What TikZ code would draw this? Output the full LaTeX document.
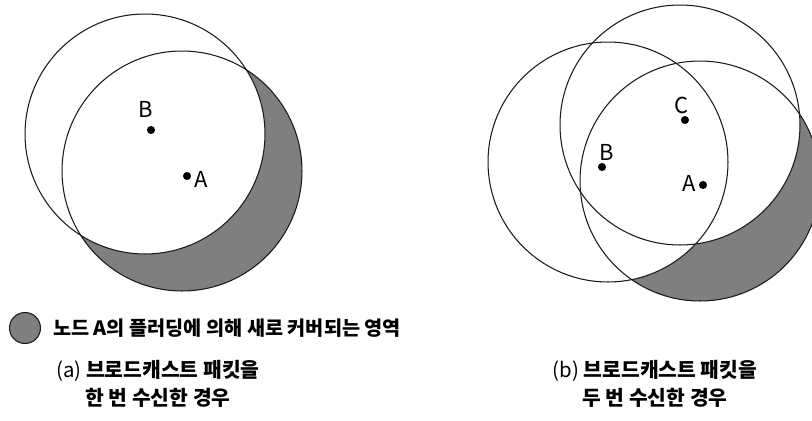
\documentclass[tikz,border=0pt]{standalone}
\usepackage{fontspec}
\setmainfont{Noto Sans CJK KR}
\usetikzlibrary{positioning}
\definecolor{AreaGray}{HTML}{7F7F7F}
\definecolor{RingBlack}{HTML}{1A1A1A}

\begin{document}
\begin{tikzpicture}[x=0.02cm, y=-0.02cm,
  dot/.style={circle, fill=black, minimum size=4.6pt, inner sep=0pt},
  ring/.style={draw=RingBlack, line width=0.6pt},
  newarea/.style={fill=AreaGray},
  lbl/.style={font=\fontsize{12.5}{14}\selectfont, inner sep=0pt},
  caption/.style={font=\fontsize{11.6}{15.3}\selectfont, align=center},
]
  \useasboundingbox (0,0) rectangle (812,420);
  % range centres
  \coordinate (la) at (182,171);
  \coordinate (lb) at (145,134);
  \coordinate (ra) at (700,181);
  \coordinate (rb) at (608,162);
  \coordinate (rc) at (680,125);
  % (a) one reception: area of A outside B
  \fill[newarea] (la) circle[radius=2.4cm];
  \fill[white] (lb) circle[radius=2.4cm];
  \foreach \c in {la,lb}
    \draw[ring] (\c) circle[radius=2.4cm];
  % (b) two receptions: area of A outside B and C
  \fill[newarea] (ra) circle[radius=2.4cm];
  \foreach \c in {rb,rc}
    \fill[white] (\c) circle[radius=2.4cm];
  \foreach \c in {ra,rb,rc}
    \draw[ring] (\c) circle[radius=2.4cm];
  % nodes
  \node[dot] (nodeA1) at (187,176) {};
  \node[dot] (nodeB1) at (151,130) {};
  \node[lbl] (labA1) at (201,179) {A};
  \node[lbl] (labB1) at (146,109) {B};
  \node[dot] (nodeA2) at (703,185) {};
  \node[dot] (nodeB2) at (602,167) {};
  \node[dot] (nodeC2) at (685,120) {};
  \node[lbl] (labA2) at (689,183) {A};
  \node[lbl] (labB2) at (607,152) {B};
  \node[lbl] (labC2) at (681,105) {C};
  % legend
  \node[circle, ring, newarea, minimum size=0.62cm, inner sep=0pt] (key) at (25,328) {};
  \node[anchor=west, font=\fontsize{11.2}{12}\selectfont\bfseries] (keytext) at (47,328)
    {노드 A의 플러딩에 의해 새로 커버되는 영역};
  % captions
  \node[caption] (capA) at (158,384) {(a) \textbf{브로드캐스트 패킷을}\\[0.5pt]\textbf{한 번 수신한 경우}};
  \node[caption] (capB) at (655,384) {(b) \textbf{브로드캐스트 패킷을}\\[0.5pt]\textbf{두 번 수신한 경우}};
\end{tikzpicture}
\end{document}
